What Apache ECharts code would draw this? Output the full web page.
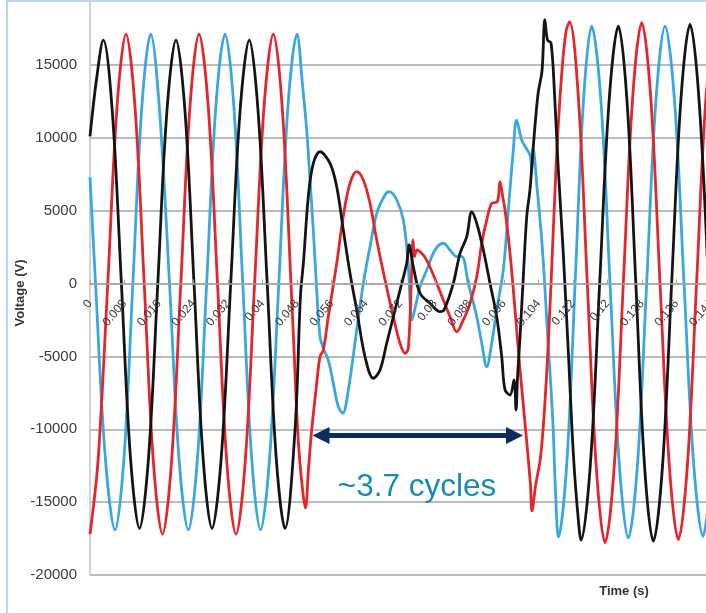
<!DOCTYPE html>
<html><head><meta charset="utf-8">
<script src="https://cdn.jsdelivr.net/npm/echarts@6/dist/echarts.min.js"></script>
<style>html,body{margin:0;padding:0;background:#fff}#c{width:706px;height:613px}</style>
</head><body><div id="c"></div>
<script>
// Phase voltages [time (s), voltage (V)]
const phaseBlack = [
[0,10100],[0.00155,14100],[0.00308,16700],[0.00517,11800],[0.00728,0],[0.00937,-11880],[0.01148,-16800],
[0.01359,-11880],[0.01572,0],[0.01783,11800],[0.01994,16700],[0.02203,11800],[0.02412,0],[0.02620,-11880],
[0.02829,-16800],[0.03045,-11880],[0.03263,0],[0.03479,11800],[0.03694,16700],[0.03898,11800],[0.04109,0],
[0.04316,-11880],[0.04522,-16800],[0.04754,-10050],[0.04881,-800],[0.04951,1500],[0.05062,5950],[0.05178,8240],
[0.05334,9040],[0.05566,8240],[0.05721,6640],[0.05874,3670],[0.06029,700],[0.06185,-1820],[0.06377,-5020],
[0.06570,-6500],[0.06725,-5930],[0.06880,-4100],[0.07034,-2280],[0.07189,-450],[0.07344,1390],[0.07398,2640],
[0.07497,1150],[0.07653,-670],[0.07885,-1360],[0.08117,-1930],[0.08209,-1820],[0.08425,10],[0.08580,2070],
[0.08736,3210],[0.08852,4920],[0.08968,4130],[0.09121,2300],[0.09276,10],[0.09431,-2280],[0.09547,-5020],
[0.09624,-7300],[0.09740,-7650],[0.09833,-6620],[0.09879,-8680],[0.09914,-6390],[0.09972,-3650],[0.10048,470],
[0.10127,4580],[0.10204,6500],[0.10285,9600],[0.10389,13000],[0.10482,14600],[0.10547,18100],[0.10609,16700],
[0.10691,16500],[0.10772,13000],[0.10851,8260],[0.10969,2360],[0.11092,-4720],[0.11210,-11800],[0.11317,-16000],
[0.11386,-17600],[0.11602,-12440],[0.11818,0],[0.12036,12490],[0.12251,17660],[0.12453,12490],[0.12657,0],
[0.12859,-12500],[0.13063,-17680],[0.13276,-12500],[0.13487,0],[0.13701,12570],[0.13914,17775],[0.14123,12570],
[0.14338,0]
];
const phaseRed = [
[0,-17200],[0.00186,-12160],[0.00412,0],[0.00626,12090],[0.00835,17100],[0.01044,12090],[0.01257,0],
[0.01468,-12160],[0.01681,-17200],[0.01892,-12160],[0.02106,0],[0.02317,12090],[0.02528,17100],[0.02743,12090],
[0.02957,0],[0.03170,-12160],[0.03386,-17200],[0.03601,-12160],[0.03817,0],[0.04035,12090],[0.04251,17100],
[0.04457,12090],[0.04661,0],[0.04738,-5000],[0.04814,-10000],[0.04893,-13100],[0.04997,-15400],[0.05067,-12700],
[0.05141,-10050],[0.05257,-6850],[0.05334,-5020],[0.05410,-4560],[0.05526,-2280],[0.05721,1390],[0.05837,3900],
[0.05953,5950],[0.06069,7220],[0.06185,7670],[0.06338,7100],[0.06493,5500],[0.06649,2980],[0.06841,240],
[0.07034,-2280],[0.07189,-4100],[0.07305,-4790],[0.07381,-4450],[0.07460,930],[0.07490,3000],[0.07525,1840],
[0.07583,2300],[0.07729,1950],[0.07845,1390],[0.08040,10],[0.08193,-1130],[0.08348,-2280],[0.08504,-3310],
[0.08657,-2500],[0.08812,-1360],[0.08968,470],[0.09084,2760],[0.09200,4360],[0.09315,5500],[0.09445,5610],
[0.09508,6980],[0.09571,5950],[0.09624,5040],[0.09740,2070],[0.09856,-1820],[0.09972,-5930],[0.10088,-9600],
[0.10211,-13700],[0.10250,-15600],[0.10331,-13900],[0.10452,-11800],[0.10572,-7080],[0.10691,0],[0.10811,8260],
[0.10932,14160],[0.11038,17300],[0.11120,17950],[0.11326,12690],[0.11532,0],[0.11739,-12570],[0.11943,-17780],
[0.12156,-12570],[0.12367,0],[0.12581,12650],[0.12794,17890],[0.13005,12650],[0.13218,0],[0.13432,-12420],
[0.13643,-17570],[0.13854,-12420],[0.14065,0],[0.14285,12800],[0.14487,17500]
];
const phaseBlue = [
[0,7300],[0.00128,0],[0.00355,-11950],[0.00580,-16900],[0.00788,-11950],[0.00994,0],[0.01201,12090],
[0.01408,17100],[0.01607,12090],[0.01844,0],[0.02062,-11950],[0.02280,-16900],[0.02493,-11950],[0.02705,0],
[0.02917,12090],[0.03131,17100],[0.03337,12090],[0.03542,0],[0.03748,-11950],[0.03954,-16900],[0.04165,-11950],
[0.04378,0],[0.04589,12090],[0.04800,17100],[0.04933,13460],[0.05025,10520],[0.05102,7100],[0.05178,3670],
[0.05257,-450],[0.05334,-3650],[0.05410,-4450],[0.05526,-5250],[0.05642,-6850],[0.05758,-8450],[0.05860,-8900],
[0.05990,-7300],[0.06185,-3190],[0.06338,10],[0.06493,2520],[0.06649,4810],[0.06841,6070],[0.06941,6300],
[0.07112,5730],[0.07265,4360],[0.07374,1500],[0.07467,-2500],[0.07560,-1400],[0.07653,-220],[0.07808,930],
[0.08001,2300],[0.08193,2760],[0.08348,2300],[0.08504,1840],[0.08620,1840],[0.08773,10],[0.08968,-2280],
[0.09084,-4100],[0.09200,-5710],[0.09315,-4100],[0.09431,-1820],[0.09584,930],[0.09700,5040],[0.09816,9160],
[0.09891,11210],[0.10011,9840],[0.10111,9300],[0.10204,8800],[0.10243,7800],[0.10273,9300],[0.10366,6600],
[0.10491,2360],[0.10612,-3540],[0.10732,-9440],[0.10795,-14300],[0.10864,-17400],[0.11057,-12300],[0.11249,0],
[0.11442,12490],[0.11634,17660],[0.11848,12490],[0.12059,0],[0.12272,-12340],[0.12483,-17450],[0.12697,-12340],
[0.12908,0],[0.13121,12490],[0.13334,17660],[0.13555,12490],[0.13775,0],[0.13995,-12260],[0.14216,-17340],
[0.14424,-12300]
];
// Annotation: outage span (arrow shaft ends; arrowheads extend beyond)
const gapStart = 0.05357, gapEnd = 0.09844, gapLevel = -10426;
const gapLabel = '~3.7 cycles';
const xTitle = 'Time (s)', yTitle = 'Voltage (V)';

const FONT = '"Liberation Sans", Arial, sans-serif';
const chart = echarts.init(document.getElementById('c'), null, {renderer: 'canvas'});
const lineSeries = (data, color, z) => ({
  type: 'line', data, showSymbol: false, smooth: 0.35, z,
  lineStyle: {width: 2.8, color}, itemStyle: {color}, silent: true
});
chart.setOption({
  animation: false,
  backgroundColor: '#ffffff',
  grid: {left: 90, right: -39.5, top: -8, bottom: 38, containLabel: false, outerBoundsMode: 'none'},
  xAxis: {
    type: 'value', min: 0, max: 0.152, interval: 0.008, z: 10,
    position: 'bottom', offset: -291.5,
    axisLine: {onZero: false, lineStyle: {color: '#a6a6a6', width: 1.5}},
    axisTick: {show: true, inside: true, length: 4, lineStyle: {color: '#a6a6a6'}},
    axisLabel: {rotate: 50, fontSize: 12, margin: 18, color: '#383838', fontFamily: FONT},
    splitLine: {show: false}
  },
  yAxis: {
    type: 'value', min: -20000, max: 20000, interval: 5000,
    axisLine: {show: true, onZero: false, lineStyle: {color: '#c4c4c4', width: 1.5}},
    axisTick: {show: false},
    axisLabel: {fontSize: 15, margin: 13, color: '#3a3a3a', fontFamily: FONT, formatter: v => String(v)},
    splitLine: {show: true, lineStyle: {color: '#a6a6a6', width: 1.5}}
  },
  series: [
    lineSeries(phaseBlue, '#3aa7de', 2),
    lineSeries(phaseRed, '#e3262b', 3),
    Object.assign(lineSeries(phaseBlack, '#141414', 4), {
      markLine: {
        silent: true, symbol: ['triangle', 'triangle'], symbolSize: [17, 17],
        label: {show: false},
        lineStyle: {color: '#0c2b5e', width: 5, type: 'solid'},
        data: [[{coord: [gapStart, gapLevel]}, {coord: [gapEnd, gapLevel]}]]
      }
    })
  ],
  graphic: [
    {type: 'rect', shape: {x: 7, y: 1, width: 760, height: 700}, style: {fill: 'none', stroke: '#bcd5f3', lineWidth: 2}, z: 100},
    {type: 'text', x: 417, y: 487, style: {text: gapLabel, fill: '#1a8ab4', font: '31.5px ' + FONT, textAlign: 'center', textVerticalAlign: 'middle'}, z: 100},
    {type: 'text', x: 624, y: 591, style: {text: xTitle, fill: '#333333', font: 'bold 13px ' + FONT, textAlign: 'center', textVerticalAlign: 'middle'}, z: 100},
    {type: 'text', x: 20, y: 293, rotation: Math.PI / 2, style: {text: yTitle, fill: '#333333', font: 'bold 13px ' + FONT, textAlign: 'center', textVerticalAlign: 'middle'}, z: 100}
  ]
});
</script></body></html>
